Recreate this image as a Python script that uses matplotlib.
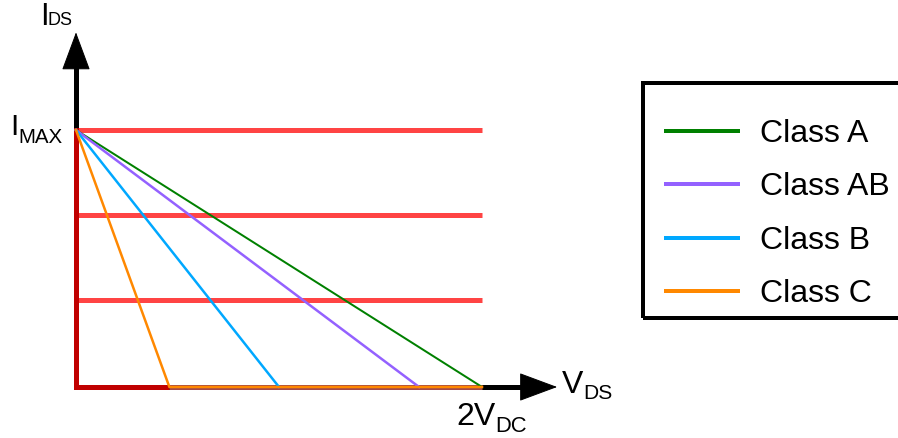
import matplotlib
matplotlib.use("Agg")
import matplotlib.pyplot as plt
from matplotlib.patches import Rectangle

plt.rcParams["font.family"] = ["Liberation Sans", "DejaVu Sans"]

# ── Data (x in units of V_DC, y in units of I_MAX) ───────────
classes      = ["Class A", "Class AB", "Class B", "Class C"]
class_colors = ["#008000", "#9461ff", "#00a8ff", "#ff8800"]
class_widths = [2.0, 2.5, 2.5, 2.5]
class_x      = [[0, 2.0], [0, 1.69], [0, 1.0], [0, 0.46, 2.0]]
class_y      = [[1, 0], [1, 0], [1, 0], [1, 0, 0]]

red_levels   = [1.0, 0.67, 0.34]     # horizontal I_DS levels
v_max        = 2.0                   # 2 V_DC
cutoff_x     = 0.46                  # class C knee on the V_DS axis
y_tip        = 1.38                  # arrow tips
x_tip        = 2.37

# ── Figure (72 dpi so 1 pt == 1 px) ──────────────────────────
W, H = 898, 438
fig = plt.figure(figsize=(W / 72, H / 72), dpi=72)
ax = fig.add_axes([0, 0, 1, 1])
ax.set_xlim(-76 / 203, (W - 76) / 203)
ax.set_ylim(-(H - 387) / 257, 387 / 257)
ax.axis("off")


def at(x, y):
    return x / W, 1 - y / H


# axes with arrow heads
ax.plot([0, 0], [0, y_tip - 0.1], color="black", lw=5, solid_capstyle="butt", zorder=1)
ax.plot([0, x_tip - 0.15], [0, 0], color="black", lw=5, solid_capstyle="butt", zorder=1)
head = dict(arrowstyle="-|>,head_length=3.5,head_width=1.3", mutation_scale=10,
            lw=1, color="black", shrinkA=0, shrinkB=0)
ax.annotate("", xy=(0, y_tip), xytext=(0, y_tip - 0.2), arrowprops=head, zorder=2)
ax.annotate("", xy=(x_tip, 0), xytext=(x_tip - 0.25, 0), arrowprops=head, zorder=2)

# horizontal current levels
for lvl in red_levels:
    ax.plot([0, v_max], [lvl, lvl], color="#ff4444", lw=5, solid_capstyle="butt", zorder=3)

# dark red boundaries
ax.plot([0, 0], [0, red_levels[0]], color="#c00000", lw=5, solid_capstyle="projecting", zorder=4)
ax.plot([0, cutoff_x], [0, 0], color="#c00000", lw=5, solid_capstyle="butt", zorder=4)
ax.plot([cutoff_x, v_max], [0, 0], color="#a34848", lw=5, solid_capstyle="butt", zorder=4)

# load lines
handles = []
for name, c, w, xs, ys in zip(classes, class_colors, class_widths, class_x, class_y):
    h, = ax.plot(xs, ys, color=c, lw=w, label=name, zorder=5)
    handles.append(h)

# legend
fig.patches.append(Rectangle(at(643, 318), 300 / W, (318 - 83) / H,
                             transform=fig.transFigure, fill=False,
                             edgecolor="black", lw=4))
leg = ax.legend(handles=handles, loc="upper left", frameon=False,
                bbox_to_anchor=at(666, 119), bbox_transform=fig.transFigure,
                fontsize=32, handlelength=2.25, handletextpad=0.69,
                labelspacing=0.73, borderpad=0, borderaxespad=0)
for line in leg.get_lines():
    line.set_linewidth(4)

# axis labels
txt = dict(transform=fig.transFigure, va="baseline", ha="left", color="black")
fig.text(*at(40.5, 25), "I", fontsize=31, **txt)
fig.text(*at(47.5, 25), "DS", fontsize=18, **txt)
fig.text(*at(10.5, 135), "I", fontsize=30, **txt)
fig.text(*at(18.5, 143), "MAX", fontsize=20.5, **txt)
fig.text(*at(562, 393), "V", fontsize=32, **txt)
fig.text(*at(583, 399), "DS", fontsize=21, **txt)
fig.text(*at(456, 425), "2V", fontsize=32, **txt)
fig.text(*at(495.5, 432), "DC", fontsize=22, **txt)

fig.savefig("out.png", dpi=72)
